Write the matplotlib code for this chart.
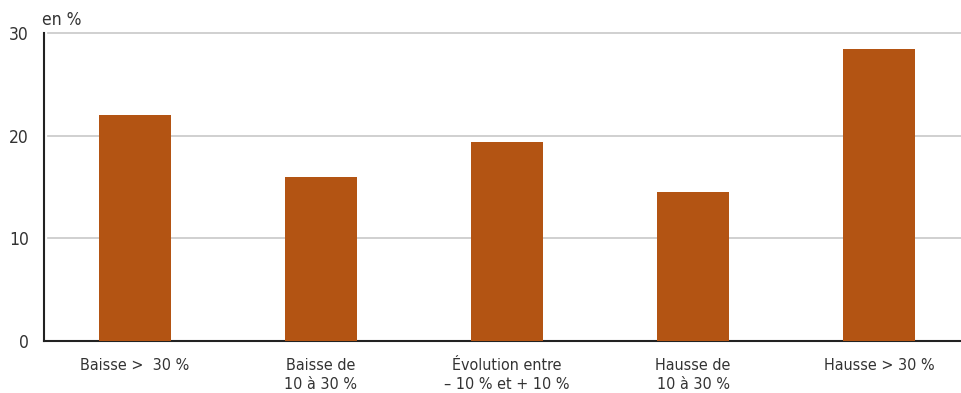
import matplotlib.pyplot as plt
from matplotlib import font_manager

categories = ["Baisse >  30 %", "Baisse de\n10 à 30 %", "Évolution entre\n– 10 % et + 10 %",
              "Hausse de\n10 à 30 %", "Hausse > 30 %"]
valeurs = [22.0, 16.0, 19.4, 14.5, 28.4]
yticks = [0, 10, 20, 30]

# police étroite si disponible
etroites = [f for f in font_manager.fontManager.ttflist
            if f.name == "DejaVu Sans" and f.stretch == "condensed" and f.weight == 400
            and f.style == "normal"]
if etroites:
    fp = font_manager.FontProperties(fname=etroites[0].fname)
else:
    fp = font_manager.FontProperties(family="DejaVu Sans")

fig = plt.figure(figsize=(9.62, 3.93), dpi=100)
ax = fig.add_axes([44 / 962, 52 / 393, 918 / 962, 308 / 393])

x = range(len(valeurs))
ax.bar(x, valeurs, width=0.387, color="#b35413", zorder=3)

ax.set_xlim(-0.489, 4.446)
ax.set_ylim(0, 30)
ax.set_yticks(yticks)
ax.set_xticks(list(x))
ax.set_xticklabels(categories, linespacing=1.4)
ax.tick_params(axis="y", length=0, pad=11)
ax.tick_params(axis="x", length=0, pad=12)
for lab in ax.get_yticklabels():
    lab.set_fontproperties(fp)
    lab.set_fontsize(12.5)
    lab.set_color("#333333")
for lab in ax.get_xticklabels():
    lab.set_fontproperties(fp)
    lab.set_fontsize(11.5)
    lab.set_color("#333333")

for t in yticks[1:]:
    ax.plot([0.004, 1], [t / 30, t / 30], transform=ax.transAxes, color="#c8c8c8",
            lw=1.2, zorder=1, clip_on=False)

for s in ["top", "right"]:
    ax.spines[s].set_visible(False)
ax.spines["left"].set_color("#222222")
ax.spines["left"].set_linewidth(1.5)
ax.spines["bottom"].set_color("#222222")
ax.spines["bottom"].set_linewidth(1.5)

t = fig.text(42 / 962, 1 - 20 / 393, "en %", color="#333333", va="center")
t.set_fontproperties(fp)
t.set_fontsize(12.5)

fig.savefig("out.png", dpi=100)
